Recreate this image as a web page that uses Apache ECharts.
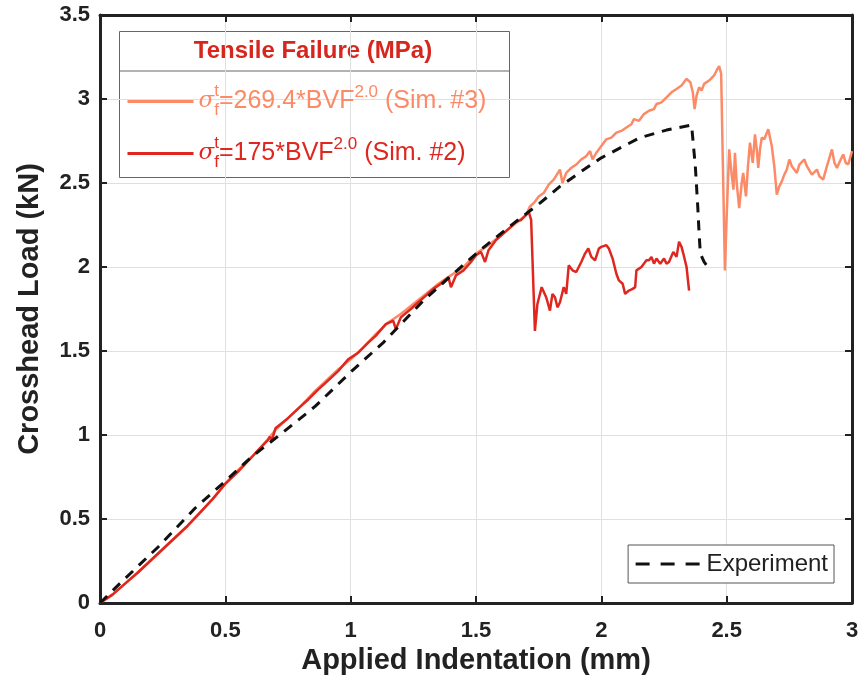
<!DOCTYPE html>
<html>
<head>
<meta charset="utf-8">
<script src="https://cdn.jsdelivr.net/npm/echarts@6/dist/echarts.min.js"></script>
<style>
  html, body { margin: 0; padding: 0; background: #fff; }
  #chart { width: 862px; height: 689px; }
</style>
</head>
<body>
<div id="chart"></div>
<script>
// applied indentation (mm) / crosshead load (kN)
const sim2X = [0, 0.05, 0.1, 0.15, 0.2, 0.25, 0.3, 0.35, 0.4, 0.45, 0.5, 0.55, 0.6, 0.65, 0.67, 0.678, 0.685, 0.7, 0.75, 0.8,
  0.83, 0.87, 0.9, 0.95, 0.99, 1.03, 1.07, 1.1, 1.14, 1.17, 1.18, 1.2, 1.24, 1.27, 1.3, 1.33, 1.36, 1.39, 1.4, 1.42,
  1.45, 1.48, 1.5, 1.52, 1.536, 1.55, 1.58, 1.61, 1.64, 1.66, 1.68, 1.7, 1.71, 1.72, 1.735, 1.745, 1.762, 1.78, 1.795, 1.805,
  1.815, 1.825, 1.835, 1.85, 1.86, 1.87, 1.885, 1.9, 1.92, 1.935, 1.948, 1.96, 1.975, 1.99, 2.0, 2.02, 2.03, 2.045, 2.06, 2.07,
  2.085, 2.095, 2.11, 2.125, 2.135, 2.14, 2.16, 2.18, 2.19, 2.2, 2.21, 2.22, 2.235, 2.25, 2.26, 2.27, 2.287, 2.3, 2.31, 2.32,
  2.327, 2.34, 2.35]
const sim2Y = [0, 0.05, 0.115, 0.18, 0.25, 0.32, 0.39, 0.46, 0.54, 0.62, 0.71, 0.78, 0.86, 0.94, 0.97, 0.99, 0.965, 1.04, 1.1, 1.17,
  1.21, 1.27, 1.31, 1.38, 1.45, 1.49, 1.55, 1.59, 1.66, 1.68, 1.63, 1.7, 1.75, 1.79, 1.83, 1.87, 1.9, 1.94, 1.88, 1.95,
  1.98, 2.03, 2.07, 2.09, 2.03, 2.1, 2.16, 2.2, 2.24, 2.27, 2.28, 2.31, 2.33, 2.28, 1.62, 1.78, 1.88, 1.82, 1.74, 1.84,
  1.82, 1.76, 1.79, 1.88, 1.84, 2.01, 1.98, 1.97, 2.03, 2.08, 2.11, 2.06, 2.04, 2.11, 2.12, 2.13, 2.11, 2.05, 1.96, 1.92,
  1.9, 1.84, 1.86, 1.87, 1.88, 1.98, 2.0, 2.04, 2.04, 2.06, 2.02, 2.05, 2.02, 2.05, 2.02, 2.03, 2.09, 2.06, 2.15, 2.12,
  2.08, 2.0, 1.86]

const sim3X = [0, 0.05, 0.1, 0.15, 0.2, 0.25, 0.3, 0.35, 0.4, 0.45, 0.5, 0.55, 0.6, 0.65, 0.7, 0.75, 0.8, 0.85, 0.9, 0.95,
  1.0, 1.05, 1.1, 1.15, 1.2, 1.25, 1.3, 1.35, 1.4, 1.45, 1.5, 1.55, 1.6, 1.65, 1.7, 1.715, 1.73, 1.75, 1.77, 1.79,
  1.81, 1.835, 1.845, 1.86, 1.88, 1.9, 1.92, 1.94, 1.955, 1.965, 1.98, 2.0, 2.02, 2.04, 2.06, 2.08, 2.1, 2.12, 2.13, 2.15,
  2.17, 2.19, 2.21, 2.22, 2.24, 2.26, 2.28, 2.3, 2.32, 2.34, 2.355, 2.365, 2.372, 2.38, 2.39, 2.4, 2.41, 2.43, 2.45, 2.46,
  2.47, 2.478, 2.485, 2.493, 2.5, 2.51, 2.52, 2.527, 2.533, 2.54, 2.55, 2.56, 2.566, 2.577, 2.585, 2.593, 2.604, 2.613, 2.62, 2.626,
  2.633, 2.64, 2.65, 2.666, 2.68, 2.69, 2.7, 2.71, 2.72, 2.73, 2.74, 2.75, 2.76, 2.78, 2.79, 2.81, 2.82, 2.84, 2.86, 2.87,
  2.885, 2.9, 2.92, 2.93, 2.94, 2.955, 2.965, 2.975, 2.985, 3.0]
const sim3Y = [0, 0.05, 0.115, 0.18, 0.25, 0.32, 0.39, 0.46, 0.54, 0.62, 0.71, 0.79, 0.86, 0.94, 1.03, 1.1, 1.17, 1.25, 1.32, 1.39,
  1.45, 1.52, 1.6, 1.67, 1.72, 1.78, 1.84, 1.9, 1.95, 2.0, 2.08, 2.13, 2.19, 2.25, 2.31, 2.36, 2.38, 2.42, 2.44, 2.49,
  2.52, 2.58, 2.5, 2.56, 2.59, 2.61, 2.64, 2.66, 2.69, 2.64, 2.68, 2.72, 2.76, 2.77, 2.8, 2.81, 2.83, 2.85, 2.88, 2.87,
  2.91, 2.93, 2.94, 2.97, 2.98, 3.01, 3.04, 3.06, 3.08, 3.12, 3.1, 3.04, 2.94, 3.02, 3.07, 3.05, 3.09, 3.11, 3.14, 3.17,
  3.196, 3.15, 2.6, 1.98, 2.3, 2.7, 2.55, 2.46, 2.68, 2.5, 2.35, 2.5, 2.56, 2.42, 2.6, 2.74, 2.62, 2.79, 2.7, 2.59,
  2.7, 2.77, 2.76, 2.82, 2.72, 2.6, 2.43, 2.48, 2.51, 2.55, 2.58, 2.64, 2.6, 2.56, 2.61, 2.64, 2.6, 2.55, 2.58, 2.54,
  2.52, 2.6, 2.7, 2.62, 2.59, 2.64, 2.67, 2.62, 2.61, 2.69]

const expX = [0, 0.087, 0.233, 0.379, 0.505, 0.605, 0.725, 0.858, 1.004, 1.13, 1.29, 1.38, 1.516, 1.65, 1.755, 1.835, 1.95, 2.0, 2.154, 2.26,
  2.36, 2.366, 2.375, 2.385, 2.39, 2.395, 2.41, 2.42]
const expY = [0, 0.127, 0.335, 0.564, 0.732, 0.87, 1.01, 1.17, 1.38, 1.55, 1.8, 1.92, 2.1, 2.26, 2.38, 2.48, 2.6, 2.65, 2.77, 2.815,
  2.845, 2.835, 2.6, 2.35, 2.2, 2.08, 2.03, 2.01]

const xTicks = ['0', '0.5', '1', '1.5', '2', '2.5', '3']
const yTicks = ['0', '0.5', '1', '1.5', '2', '2.5', '3', '3.5']

const zip = (xs, ys) => xs.map((x, i) => [x, ys[i]])

const font = 'Liberation Sans, Arial, sans-serif'
const salmon = '#fc8a66'
const red = '#df2720'

const chart = echarts.init(document.getElementById('chart'))

const frameAxis = {
  type: 'value',
  min: 0,
  interval: 0.5,
  axisLine: { show: true, onZero: false, lineStyle: { color: '#222', width: 3 } },
  axisTick: { show: true, inside: true, length: 7, lineStyle: { color: '#222', width: 2 } },
  axisLabel: { show: false },
  splitLine: { show: false }
}

chart.setOption({
  animation: false,
  grid: { left: 100, right: 10, top: 15, bottom: 86 },
  xAxis: [{
    type: 'value',
    min: 0,
    max: 3,
    interval: 0.5,
    name: 'Applied Indentation (mm)',
    nameLocation: 'middle',
    nameGap: 42,
    nameTextStyle: { fontFamily: font, fontWeight: 'bold', fontSize: 29, color: '#222' },
    axisLine: { onZero: false, lineStyle: { color: '#222', width: 3 } },
    axisTick: { inside: true, length: 7, lineStyle: { color: '#222', width: 2 } },
    axisLabel: {
      fontFamily: font, fontWeight: 'bold', fontSize: 22, color: '#222', margin: 17,
      formatter: v => xTicks[Math.round(v / 0.5)]
    },
    splitLine: { show: true, lineStyle: { color: '#e0e0e0', width: 1 } }
  }, Object.assign({}, frameAxis, { position: 'top', max: 3 })],
  yAxis: [{
    type: 'value',
    min: 0,
    max: 3.5,
    interval: 0.5,
    name: 'Crosshead Load (kN)',
    nameLocation: 'middle',
    nameGap: 56,
    nameTextStyle: { fontFamily: font, fontWeight: 'bold', fontSize: 29, color: '#222' },
    axisLine: { show: true, onZero: false, lineStyle: { color: '#222', width: 3 } },
    axisTick: { show: true, inside: true, length: 7, lineStyle: { color: '#222', width: 2 } },
    axisLabel: {
      fontFamily: font, fontWeight: 'bold', fontSize: 22, color: '#222', margin: 10,
      formatter: v => yTicks[Math.round(v / 0.5)]
    },
    splitLine: { show: true, lineStyle: { color: '#e0e0e0', width: 1 } }
  }, Object.assign({}, frameAxis, { position: 'right', max: 3.5 })],
  legend: [{
    orient: 'vertical',
    left: 121,
    top: 78,
    itemWidth: 66,
    itemHeight: 14,
    itemGap: 16,
    itemStyle: { opacity: 0 },
    lineStyle: { width: 3 },
    data: [
      { name: 'Sim. #3', textStyle: { color: salmon } },
      { name: 'Sim. #2', textStyle: { color: red } }
    ],
    formatter: name => name === 'Sim. #3'
      ? '{sig|σ}{sup|t}{sub|f}{txt|=269.4*BVF}{pow|2.0}{txt| (Sim. #3)}'
      : '{sig|σ}{sup|t}{sub|f}{txt|=175*BVF}{pow|2.0}{txt| (Sim. #2)}',
    textStyle: {
      fontFamily: font,
      fontSize: 25,
      rich: {
        sig: { fontFamily: 'DejaVu Serif', fontStyle: 'italic', fontSize: 23 },
        sup: { fontFamily: font, fontSize: 17, width: 0, padding: [0, 0, 20, 0] },
        sub: { fontFamily: font, fontSize: 17, padding: [18, 0, 0, 0] },
        txt: { fontFamily: font, fontSize: 25 },
        pow: { fontFamily: font, fontSize: 17, padding: [0, 0, 18, 0] }
      }
    }
  }, {
    right: 28,
    bottom: 106,
    itemWidth: 66,
    itemHeight: 14,
    padding: [7, 6, 7, 6],
    borderColor: '#555',
    borderWidth: 1,
    backgroundColor: '#fff',
    itemStyle: { opacity: 0 },
    lineStyle: { type: [14, 11], width: 3 },
    data: ['Experiment'],
    textStyle: { fontFamily: font, fontSize: 24, color: '#222' }
  }],
  graphic: [{
    type: 'rect',
    left: 119,
    top: 31,
    shape: { width: 390, height: 146 },
    style: { fill: '#fff', stroke: '#666', lineWidth: 1 },
    z: 0
  }, {
    type: 'line',
    shape: { x1: 119, y1: 71, x2: 509, y2: 71 },
    style: { stroke: '#666', lineWidth: 1 }
  }, {
    type: 'text',
    x: 313,
    y: 51,
    style: {
      text: 'Tensile Failure (MPa)',
      fill: '#d7261e',
      font: 'bold 24px ' + font,
      align: 'center',
      verticalAlign: 'middle'
    }
  }],
  series: [{
    name: 'Sim. #3',
    type: 'line',
    showSymbol: false,
    symbol: 'none',
    data: zip(sim3X, sim3Y),
    lineStyle: { color: salmon, width: 2.5 },
    itemStyle: { color: salmon },
    z: 2
  }, {
    name: 'Sim. #2',
    type: 'line',
    showSymbol: false,
    symbol: 'none',
    data: zip(sim2X, sim2Y),
    lineStyle: { color: red, width: 2.5 },
    itemStyle: { color: red },
    z: 3
  }, {
    name: 'Experiment',
    type: 'line',
    showSymbol: false,
    symbol: 'none',
    data: zip(expX, expY),
    lineStyle: { color: '#111', width: 3, type: [10, 8] },
    itemStyle: { color: '#111' },
    z: 4
  }]
})
</script>
</body>
</html>
